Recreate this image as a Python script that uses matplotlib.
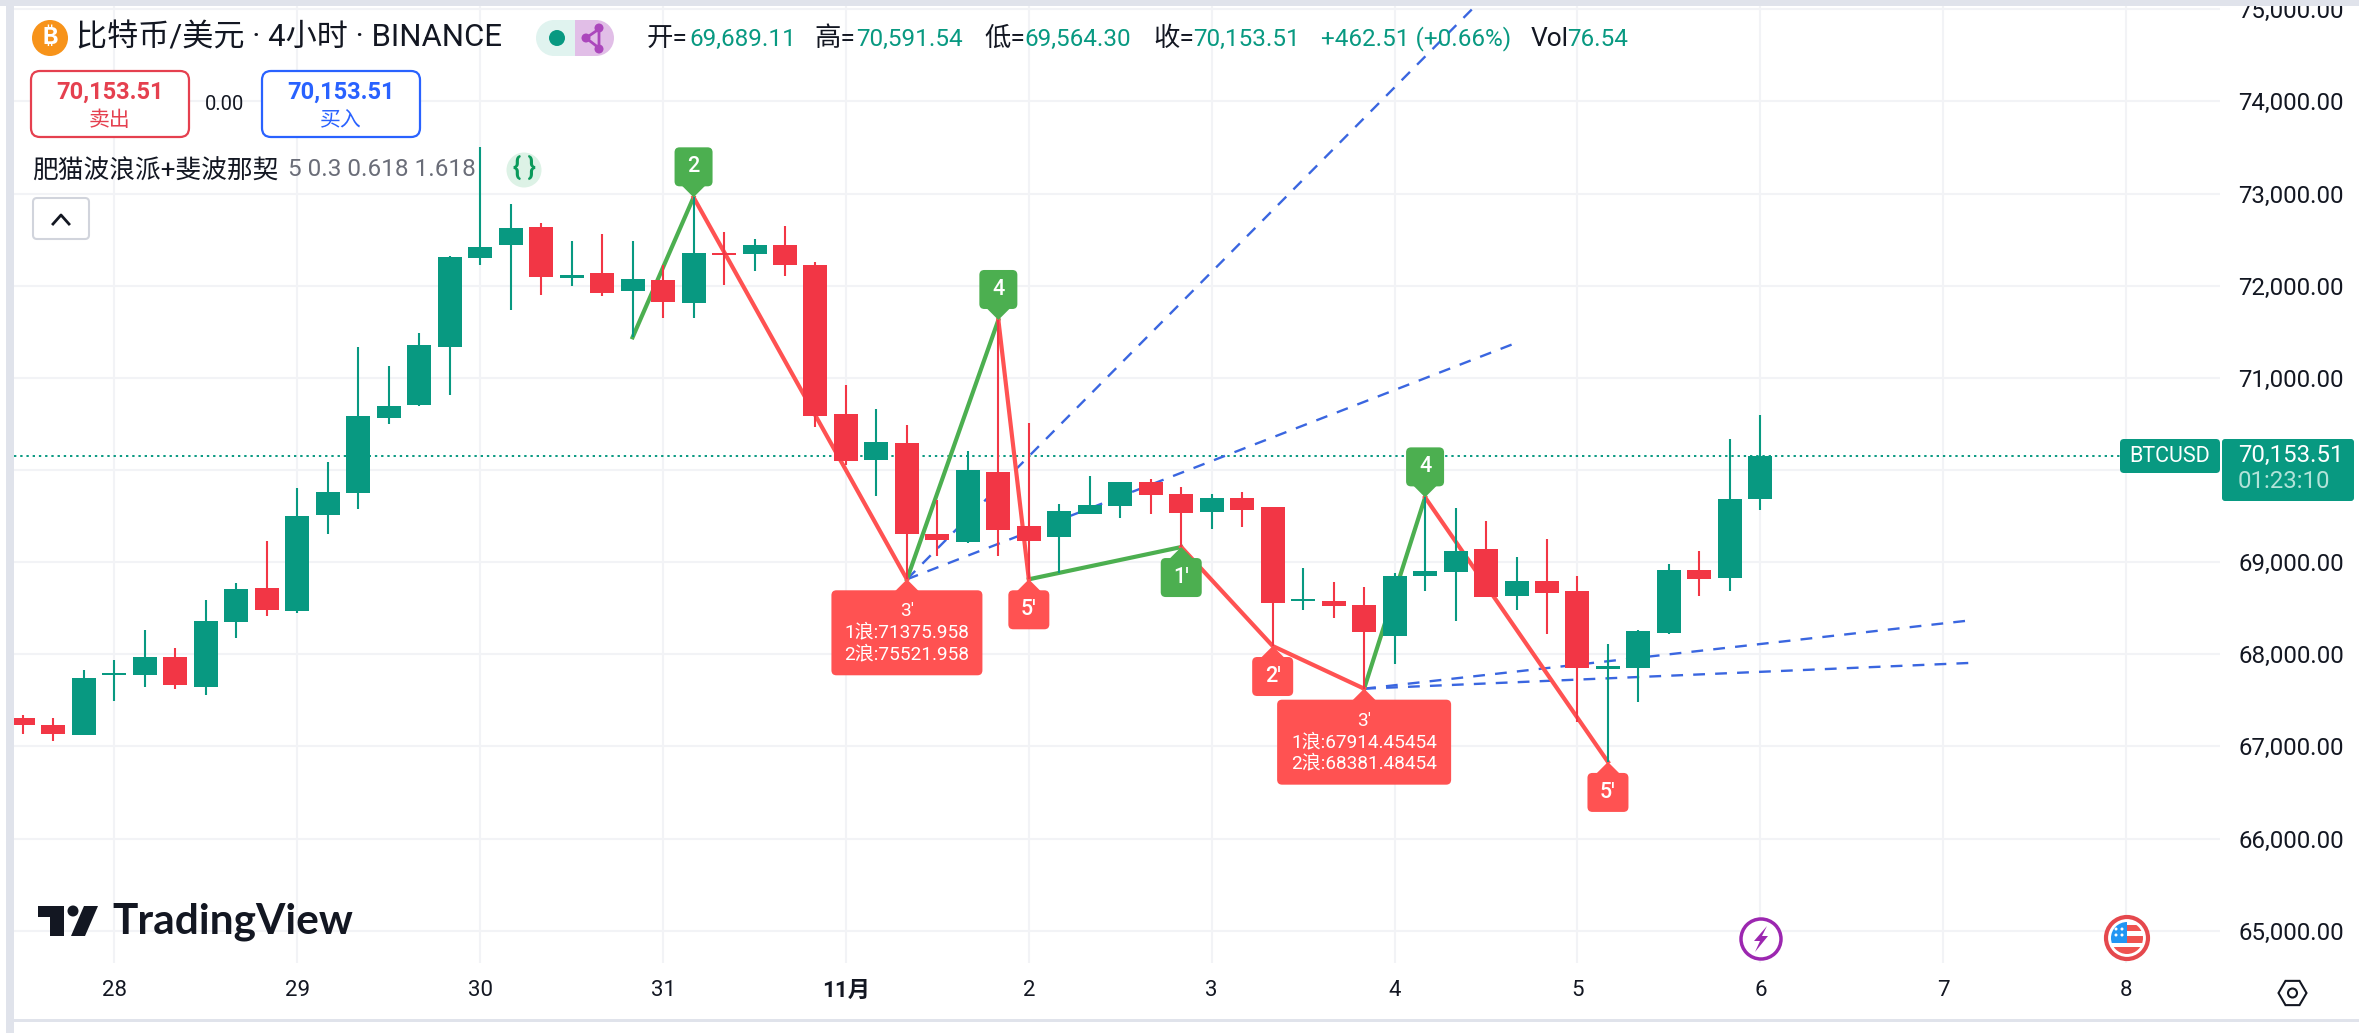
import matplotlib
matplotlib.use("Agg")
import matplotlib.pyplot as plt
from matplotlib.patches import Circle, Ellipse, FancyBboxPatch, Polygon, Rectangle, RegularPolygon

plt.rcParams["font.family"] = ["Roboto", "Noto Sans CJK SC", "DejaVu Sans"]

# 4h candles
opens = [67309, 67233, 67125, 67776, 67776, 67971, 67645, 68351, 68720, 68470,
         69512, 69750, 70564, 70705, 71335, 72304, 72445, 72637, 72083, 72138,
         71942, 72062, 71812, 72355, 72344, 72441, 72224, 70608, 70109, 70293,
         69306, 69219, 69978, 69392, 69273, 69523, 69609, 69870, 69740, 69544,
         69696, 69599, 68575, 68575, 68535, 68202, 68850, 68893, 69143, 68633,
         68796, 68687, 67841, 67852, 68231, 68915, 68828, 69689.11]
highs = [67342, 67309, 67830, 67938, 68264, 68069, 68589, 68774, 69230, 69805,
         70087, 71335, 71128, 71487, 72318, 73508, 72886, 72677, 72485, 72561,
         72485, 72224, 72959, 72583, 72507, 72648, 72260, 70922, 70662, 70488,
         69674, 70203, 71628, 70506, 69631, 69935, 69870, 69902, 69816, 69740,
         69761, 69599, 68937, 68785, 68730, 68879, 69703, 69588, 69447, 69056,
         69251, 68850, 68112, 68264, 68980, 69121, 70336, 70591.54]
lows = [67135, 67059, 67125, 67493, 67645, 67624, 67559, 68177, 68416, 68448,
        69306, 69577, 70499, 70694, 70814, 72224, 71736, 71899, 71997, 71888,
        71440, 71649, 71649, 72007, 72159, 72105, 70470, 70054, 69721, 68814,
        69070, 69208, 69070, 68814, 68879, 69523, 69479, 69523, 69164, 69360,
        69382, 68090, 68481, 68398, 67627, 67899, 68687, 68362, 68622, 68481,
        68220, 67266, 66832, 67483, 68220, 68633, 68687, 69564.30]
closes = [67233, 67135, 67743, 67797, 67971, 67667, 68361, 68709, 68481, 69501,
          69761, 70586, 70694, 71356, 72311, 72420, 72626, 72098, 72116, 71921,
          72073, 71823, 72355, 72333, 72441, 72224, 70590, 70101, 70304, 69309,
          69240, 70000, 69349, 69230, 69555, 69620, 69870, 69729, 69533, 69696,
          69566, 68560, 68604, 68528, 68246, 68850, 68908, 69121, 68622, 68796,
          68665, 67852, 67873, 68253, 68915, 68817, 69685, 70153.51]
last_price = 70153.51

price_ticks = [65000, 66000, 67000, 68000, 69000, 70000, 71000, 72000, 73000, 74000, 75000]
# the 70,000 label sits under the last price box in the reference
price_labels = ["65,000.00", "66,000.00", "67,000.00", "68,000.00", "69,000.00", "",
                "71,000.00", "72,000.00", "73,000.00", "74,000.00", "75,000.00"]
date_ticks = [3, 9, 15, 21, 27, 33, 39, 45, 51, 57, 63, 69]
date_labels = ["28", "29", "30", "31", "11月", "2", "3", "4", "5", "6", "7", "8"]

# wave legs: (bar, price) pairs
green_legs = [[(20, 71440), (22, 72959)], [(29, 68814), (32, 71628)],
              [(33, 68814), (38, 69164)], [(44, 67627), (46, 69703)]]
red_legs = [[(22, 72959), (29, 68814)], [(32, 71628), (33, 68814)],
            [(38, 69164), (41, 68090), (44, 67627)], [(46, 69703), (52, 66832)]]
fib_lines = [[(29, 68814), (47.6, 75020)], [(29, 68814), (48.85, 71362)],
             [(44, 67627), (63.8, 68365)], [(44, 67627), (63.85, 67906)]]

# small wave tags: text, bar, price
tags_up = [("2", 22, 72959), ("4", 32, 71628), ("4", 46, 69703)]
tags_down_green = [("1'", 38, 69164)]
tags_down_red = [("5'", 33, 68814), ("2'", 41, 68090), ("5'", 52, 66832)]
# big tags with fib targets
big_tags = [("3'\n1浪:71375.958\n2浪:75521.958", 29, 68814, 151),
            ("3'\n1浪:67914.45454\n2浪:68381.48454", 44, 67627, 174)]

W, H = 2359, 1033
GREEN = "#089981"
RED = "#F23645"
TAG_GREEN = "#4CAF50"
TAG_RED = "#FF5252"
BLUE = "#2962FF"
FIB_BLUE = "#3A66E0"
DARK = "#131722"
GRID = "#F2F3F6"
BAND = "#E0E3EB"

fig = plt.figure(figsize=(W / 100, H / 100), dpi=100, facecolor="white")

# chart pane, pixel box -> price/bar limits
left, right, top, bottom = 14, 2220, 6, 963
ax = fig.add_axes([left / W, 1 - bottom / H, (right - left) / W, (bottom - top) / H])
ax.set_xlim((left - 23) / 30.48, (right - 23) / 30.48)
ax.set_ylim(70000 + (470 - bottom) / 0.09215, 70000 + (470 - top) / 0.09215)
for side in ax.spines.values():
    side.set_visible(False)

ax.set_yticks(price_ticks)
ax.set_yticklabels(price_labels, fontsize=17.3, color=DARK)
ax.yaxis.tick_right()
ax.set_xticks(date_ticks)
ax.set_xticklabels(date_labels, fontsize=16, color=DARK)
ax.get_xticklabels()[4].set_fontweight("bold")
ax.tick_params(axis="y", length=0, pad=13)
ax.tick_params(axis="x", length=0, pad=12)
ax.grid(True, color=GRID, linewidth=1.5, zorder=0)
ax.set_axisbelow(True)

ax.axhline(last_price, color=GREEN, linewidth=1.4, linestyle=(0, (1.2, 2.0)), zorder=1)

for leg in fib_lines:
    ax.plot([p[0] for p in leg], [p[1] for p in leg], color=FIB_BLUE,
            linewidth=1.7, linestyle=(0, (5, 4.3)), zorder=2)
for leg in green_legs:
    ax.plot([p[0] for p in leg], [p[1] for p in leg], color=TAG_GREEN, linewidth=3, zorder=3)
for leg in red_legs:
    ax.plot([p[0] for p in leg], [p[1] for p in leg], color=TAG_RED, linewidth=3, zorder=3)

bars = list(range(len(opens)))
colors = [GREEN if c >= o else RED for o, c in zip(opens, closes)]
ax.vlines(bars, lows, highs, colors=colors, linewidth=1.5, zorder=4)
ax.bar(bars, [abs(c - o) for o, c in zip(opens, closes)],
       bottom=[min(o, c) for o, c in zip(opens, closes)],
       width=0.787, color=colors, linewidth=0, zorder=5)

# overlay in pixel coordinates for the TradingView chrome and tags
ov = fig.add_axes([0, 0, 1, 1], zorder=5)
ov.set_xlim(0, W)
ov.set_ylim(H, 0)
ov.axis("off")


def to_px(bar, price):
    return ov.transData.inverted().transform(ax.transData.transform((bar, price)))


def round_box(x0, y0, w, h, face, edge="none", lw=0, radius=5, z=6):
    ov.add_patch(FancyBboxPatch((x0 + radius, y0 + radius), w - 2 * radius, h - 2 * radius,
                                boxstyle=f"round,pad={radius},rounding_size={radius}",
                                facecolor=face, edgecolor=edge, linewidth=lw, zorder=z))


def draw_tag(text, bar, price, color, above, width=40, height=39, fontsize=15.5, gap=11, weight="medium"):
    px, py = to_px(bar, price)
    sign = -1 if above else 1
    near = py + sign * gap
    ov.add_patch(Polygon([(px, py), (px - 12, near + sign), (px + 12, near + sign)],
                         facecolor=color, edgecolor="none", zorder=7))
    y0 = near - height if above else near
    round_box(px - width / 2, y0, width, height, color, z=7)
    ov.text(px, y0 + height / 2, text, color="white", ha="center", va="center",
            fontsize=fontsize, fontweight=weight, zorder=8, linespacing=1.25)


for text, bar, price in tags_up:
    draw_tag(text, bar, price, TAG_GREEN, True, width=38)
for text, bar, price in tags_down_green:
    draw_tag(text, bar, price, TAG_GREEN, False, width=41)
for text, bar, price in tags_down_red:
    draw_tag(text, bar, price, TAG_RED, False, width=41)
for text, bar, price, box_w in big_tags:
    draw_tag(text, bar, price, TAG_RED, False, width=box_w, height=85, fontsize=13.7, weight="normal")

# page frame
ov.add_patch(Rectangle((0, 0), W, 6, facecolor=BAND, edgecolor="none", zorder=9))
ov.add_patch(Rectangle((6, 0), 8, H, facecolor=BAND, edgecolor="none", zorder=9))
ov.add_patch(Rectangle((14, 1019), W, 3, facecolor=BAND, edgecolor="none", zorder=9))
ov.add_patch(Rectangle((14, 1022), W, 11, facecolor="white", edgecolor="none", zorder=9))

# header
ov.add_patch(Circle((50, 38), 18, facecolor="#F7931A", edgecolor="none", zorder=6))
ov.text(50, 38, "₿", color="white", ha="center", va="center", fontsize=17,
        fontweight="bold", family=["Inter", "Noto Sans", "Open Sans", "Lato", "Liberation Sans", "DejaVu Sans"], zorder=7)
ov.text(76, 38, "比特币/美元 · 4小时 · BINANCE", color=DARK, ha="left", va="center",
        fontsize=22.4, zorder=7)

ov.add_patch(FancyBboxPatch((554, 20), 42, 36, boxstyle="round,pad=0,rounding_size=1",
                            facecolor="#E0F3EF", edgecolor="none", zorder=5))
ov.add_patch(Ellipse((554, 38), 36, 36, facecolor="#E0F3EF", edgecolor="none", zorder=5))
ov.add_patch(Rectangle((575, 20), 21, 36, facecolor="#E1BEE7", edgecolor="none", zorder=6))
ov.add_patch(Ellipse((596, 38), 36, 36, facecolor="#E1BEE7", edgecolor="none", zorder=5))
ov.add_patch(Circle((557, 38), 8, facecolor=GREEN, edgecolor="none", zorder=7))
ov.add_patch(Polygon([(586, 38), (599, 29), (599, 48)], fill=False, edgecolor="#AB47BC",
                     linewidth=2, zorder=7))
for node in [(586, 38), (599, 28), (599, 49)]:
    ov.add_patch(Circle(node, 4.5, facecolor="#AB47BC", edgecolor="none", zorder=7))

# OHLC read-out
for label, lx, value, vx in [
    ("开=", 647, "69,689.11", 689), ("高=", 814, "70,591.54", 856),
    ("低=", 984, "69,564.30", 1024), ("收=", 1153, "70,153.51", 1193),
    ("Vol", 1531, "76.54", 1567),
]:
    ov.text(lx, 39, label, color=DARK, ha="left", va="center", fontsize=19, zorder=7)
    ov.text(vx, 39, value, color=GREEN, ha="left", va="center", fontsize=17.5, zorder=7)
ov.text(1321, 39, "+462.51 (+0.66%)", color=GREEN, ha="left", va="center", fontsize=17.5, zorder=7)

# buy and sell buttons
round_box(31, 71, 158, 66, "white", edge="#E5404F", lw=1.6, radius=9)
round_box(262, 71, 158, 66, "white", edge=BLUE, lw=1.6, radius=9)
ov.text(110, 92, "70,153.51", color="#E5404F", ha="center", va="center", fontsize=17,
        fontweight="bold", zorder=7)
ov.text(110, 120, "卖出", color="#E5404F", ha="center", va="center", fontsize=15, zorder=7)
ov.text(341, 92, "70,153.51", color=BLUE, ha="center", va="center", fontsize=17,
        fontweight="bold", zorder=7)
ov.text(341, 120, "买入", color=BLUE, ha="center", va="center", fontsize=15, zorder=7)
ov.text(225, 104, "0.00", color=DARK, ha="center", va="center", fontsize=14.5, zorder=7)

# indicator legend
ov.text(32, 172, "肥猫波浪派+斐波那契", color=DARK, ha="left", va="center", fontsize=18.5, zorder=7)
ov.text(288, 170, "5 0.3 0.618 1.618", color="#6A6D78", ha="left", va="center", fontsize=17.5, zorder=7)
ov.add_patch(Ellipse((524, 170), 35, 35, facecolor="#DDF2E6", edgecolor="none", zorder=6))
ov.text(524, 168, "{ }", color="#0B9A5B", ha="center", va="center", fontsize=18,
        fontweight="bold", zorder=7)
round_box(33, 198, 56, 41, "white", edge="#D1D4DC", lw=1.5, radius=4)
ov.plot([53, 61, 69], [224, 215, 224], color=DARK, linewidth=2, zorder=7)

# last price marker
round_box(2120, 439, 100, 34, GREEN, radius=4)
ov.text(2170, 456, "BTCUSD", color="white", ha="center", va="center", fontsize=15.5, zorder=7)
round_box(2222, 439, 132, 62, GREEN, radius=3)
ov.text(2238, 455, "70,153.51", color="white", ha="left", va="center", fontsize=17.3, zorder=7)
ov.text(2238, 482, "01:23:10", color="#B2E3D9", ha="left", va="center", fontsize=17.3, zorder=7)

# TradingView logo
ov.add_patch(Polygon([(38, 906), (64, 906), (64, 936), (50, 936), (50, 917), (38, 917)],
                     facecolor=DARK, edgecolor="none", zorder=7))
ov.add_patch(Circle((73, 911), 5.5, facecolor=DARK, edgecolor="none", zorder=7))
ov.add_patch(Polygon([(84, 906), (98, 906), (85, 936), (71, 936)], facecolor=DARK,
                     edgecolor="none", zorder=7))
ov.text(112, 922, "TradingView", color=DARK, ha="left", va="center", fontsize=30.5,
        fontweight="bold", family=["Lato", "DejaVu Sans"], zorder=7)

# event markers
ov.add_patch(Circle((1761, 939), 20, facecolor="white", edgecolor="#9C27B0", linewidth=2.5, zorder=7))
ov.add_patch(Polygon([(1767, 926), (1754, 941), (1760, 941), (1755, 952), (1768, 936), (1762, 936)],
                     facecolor="#9C27B0", edgecolor="none", zorder=8))
ov.add_patch(Circle((2127, 938), 21, facecolor="white", edgecolor="#E5484D", linewidth=3, zorder=7))
flag = Circle((2127, 938), 16, facecolor="none", edgecolor="none", zorder=7)
ov.add_patch(flag)
for rect, color in [(((2111, 922), 32, 32), "white"), (((2127, 925), 16, 6), "#EF5350"),
                    (((2127, 936), 16, 7), "#EF5350"), (((2111, 947), 32, 7), "#EF5350"),
                    (((2111, 922), 16, 21), "#2196F3")]:
    piece = Rectangle(rect[0], rect[1], rect[2], facecolor=color, edgecolor="none", zorder=8)
    ov.add_patch(piece)
    piece.set_clip_path(flag)
for sx, sy in [(2116, 929), (2122, 929), (2116, 935), (2122, 935)]:
    ov.add_patch(Circle((sx, sy), 1.5, facecolor="white", edgecolor="none", zorder=9))

# settings hexagon on the axis corner
ov.add_patch(RegularPolygon((2292.5, 993), 6, radius=14, orientation=0.5236, fill=False,
                            edgecolor=DARK, linewidth=1.5, zorder=7))
ov.add_patch(Circle((2292.5, 993), 4.5, fill=False, edgecolor=DARK, linewidth=1.5, zorder=7))

fig.savefig("out.png", dpi=100)
